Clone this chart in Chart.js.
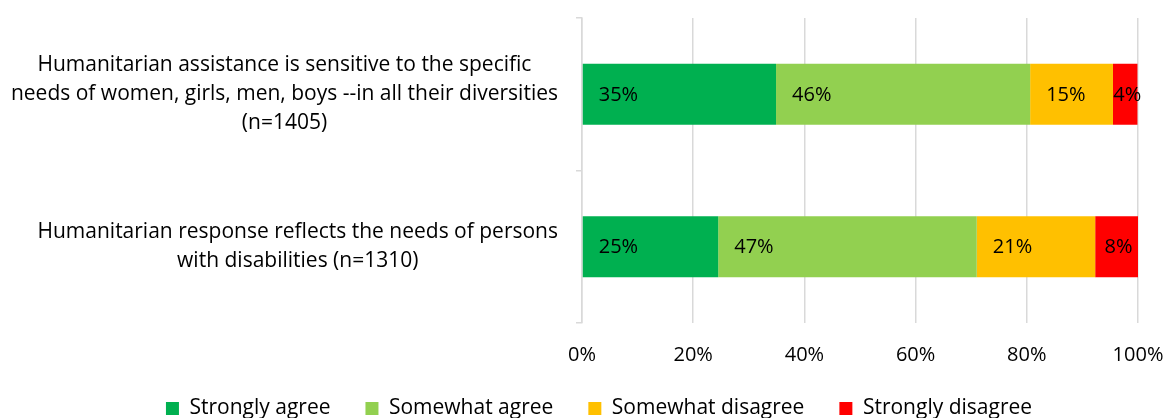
<!DOCTYPE html>
<html>
<head>
<meta charset="utf-8">
<script src="https://cdn.jsdelivr.net/npm/chart.js@4"></script>
<style>
  body { margin: 0; background: #fff; }
  #wrap { width: 1166px; height: 418px; }
</style>
</head>
<body>
<div id="wrap"><canvas id="myChart" width="1166" height="418"></canvas></div>
<script>
var categories = [
    ['Humanitarian assistance is sensitive to the specific', 'needs of women, girls, men, boys --in all their diversities', '(n=1405)'],
    ['Humanitarian response reflects the needs of persons', 'with disabilities (n=1310)']
];
var seriesNames = ['Strongly agree', 'Somewhat agree', 'Somewhat disagree', 'Strongly disagree'];
var stronglyAgree = [34.9, 24.5];
var somewhatAgree = [45.7, 46.5];
var somewhatDisagree = [14.9, 21.3];
var stronglyDisagree = [4.4, 7.7];
var tickValues = [0, 20, 40, 60, 80, 100];
var colors = ['#00B050', '#92D050', '#FFC000', '#FF0000'];

var FONT = '"Open Sans", Lato, sans-serif';

// percent labels inside each segment
var segLabels = {
    id: 'segLabels',
    afterDatasetsDraw: function (chart) {
        var ctx = chart.ctx;
        ctx.save();
        ctx.font = '20px ' + FONT;
        ctx.fillStyle = '#000';
        ctx.textBaseline = 'middle';
        chart.data.datasets.forEach(function (ds, di) {
            chart.getDatasetMeta(di).data.forEach(function (bar, i) {
                var txt = Math.round(ds.data[i]) + '%';
                var w = bar.x - bar.base;
                if (w >= 60) {
                    ctx.textAlign = 'left';
                    ctx.fillText(txt, bar.base + 16, bar.y + 1);
                } else {
                    ctx.textAlign = 'center';
                    ctx.fillText(txt, (bar.x + bar.base) / 2 + 2, bar.y + 1);
                }
            });
        });
        ctx.restore();
    }
};

// category labels, each block centred on its own widest line
var catLabels = {
    id: 'catLabels',
    afterDraw: function (chart) {
        var ctx = chart.ctx;
        var y = chart.scales.y;
        ctx.save();
        ctx.font = '21px ' + FONT;
        ctx.fillStyle = '#000';
        ctx.textAlign = 'center';
        ctx.textBaseline = 'middle';
        var right = chart.chartArea.left - 24;
        var lh = 29;
        categories.forEach(function (lines, i) {
            var maxW = 0;
            lines.forEach(function (l) { maxW = Math.max(maxW, ctx.measureText(l).width); });
            var cx = right - maxW / 2;
            var cy = y.getPixelForValue(i);
            var top = cy - (lines.length - 1) * lh / 2;
            lines.forEach(function (l, k) {
                ctx.fillText(l, cx, top + k * lh);
            });
        });
        ctx.restore();
    }
};

var ctx = document.getElementById('myChart').getContext('2d');
new Chart(ctx, {
    type: 'bar',
    data: {
        labels: categories,
        datasets: [
            { label: seriesNames[0], data: stronglyAgree, backgroundColor: colors[0] },
            { label: seriesNames[1], data: somewhatAgree, backgroundColor: colors[1] },
            { label: seriesNames[2], data: somewhatDisagree, backgroundColor: colors[2] },
            { label: seriesNames[3], data: stronglyDisagree, backgroundColor: colors[3] }
        ]
    },
    plugins: [segLabels, catLabels],
    options: {
        indexAxis: 'y',
        responsive: false,
        animation: false,
        categoryPercentage: 0.4,
        barPercentage: 1,
        layout: { padding: { left: 60, right: 28, top: 18, bottom: -11 } },
        scales: {
            x: {
                stacked: true,
                min: 0,
                max: 100,
                afterBuildTicks: function (s) {
                    s.ticks = tickValues.map(function (v) { return { value: v }; });
                },
                afterFit: function (s) {
                    s.height = 40;
                    s.paddingLeft = 0;
                    s.paddingRight = 0;
                },
                ticks: {
                    callback: function (v) { return v + '%'; },
                    font: { family: FONT, size: 20 },
                    color: '#000',
                    padding: 20
                },
                grid: { color: '#D9D9D9', lineWidth: 1.5, drawTicks: false },
                border: { display: false }
            },
            y: {
                stacked: true,
                afterFit: function (s) { s.width = 522; },
                ticks: { display: false },
                grid: { drawOnChartArea: false, color: '#D9D9D9', lineWidth: 1.5, tickLength: 6, offset: true },
                border: { display: true, color: '#D9D9D9', width: 1.5 }
            }
        },
        plugins: {
            legend: {
                position: 'bottom',
                labels: {
                    boxWidth: 13,
                    boxHeight: 13,
                    padding: 35,
                    color: '#000',
                    font: { family: FONT, size: 21 }
                }
            },
            tooltip: { enabled: false }
        }
    }
});
</script>
</body>
</html>
